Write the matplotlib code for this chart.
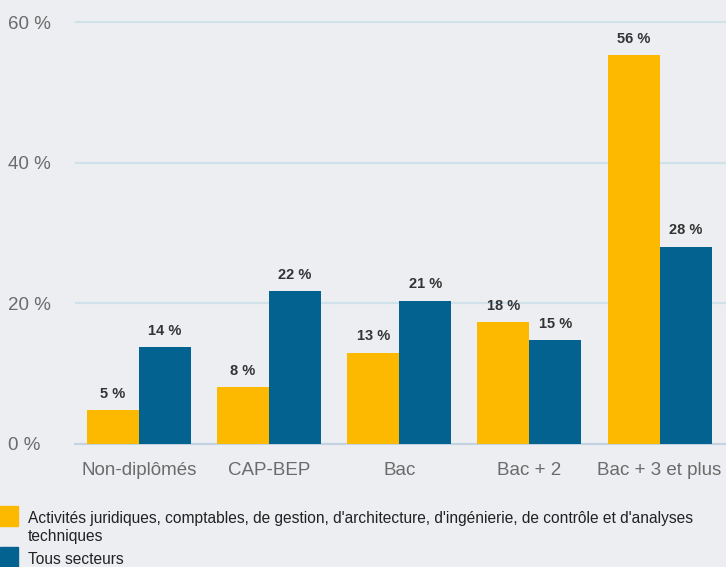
import numpy as np
import matplotlib
matplotlib.use('Agg')
import matplotlib.pyplot as plt
from matplotlib.patches import Rectangle

categories = ['Non-diplômés', 'CAP-BEP', 'Bac', 'Bac + 2', 'Bac + 3 et plus']
activites = [4.8, 8.1, 13.0, 17.4, 55.3]
tous = [13.8, 21.8, 20.4, 14.8, 28.1]
activites_labels = ['5 %', '8 %', '13 %', '18 %', '56 %']
tous_labels = ['14 %', '22 %', '21 %', '15 %', '28 %']
series_names = ["Activités juridiques, comptables, de gestion, d'architecture, d'ingénierie, de contrôle et d'analyses\ntechniques",
                'Tous secteurs']
yticks = [0, 20, 40, 60]

plt.rcParams['font.family'] = ['Liberation Sans', 'DejaVu Sans']

bg = '#eceef1'
orange = '#fcb900'
blue = '#03628f'

W, H = 726, 567
fig = plt.figure(figsize=(W / 100, H / 100), dpi=100, facecolor=bg)
ax = fig.add_axes([0.1033, 0.217, 0.8967, 0.746])
ax.set_facecolor(bg)

x = np.arange(len(categories))
w = 0.4
b1 = ax.bar(x - w/2, activites, w, color=orange, zorder=3)
b2 = ax.bar(x + w/2, tous, w, color=blue, zorder=3)

for rect, lab in zip(b1, activites_labels):
    ax.text(rect.get_x() + rect.get_width()/2, rect.get_height() + 1.3, lab,
            ha='center', va='bottom', fontsize=10.5, fontweight='bold', color='#333333')
for rect, lab in zip(b2, tous_labels):
    ax.text(rect.get_x() + rect.get_width()/2, rect.get_height() + 1.3, lab,
            ha='center', va='bottom', fontsize=10.5, fontweight='bold', color='#333333')

ax.set_xlim(-0.49, 4.51)
ax.set_ylim(0, 60.2)
ax.set_yticks(yticks)
ax.set_yticklabels([f'{v} %' for v in yticks])
ax.set_xticks(x)
ax.set_xticklabels(categories)
ax.tick_params(axis='both', length=0, labelsize=13.5, labelcolor='#6b6b6b')
ax.tick_params(axis='x', pad=13)
for lab in ax.get_yticklabels():
    lab.set_horizontalalignment('left')
ax.yaxis.set_tick_params(pad=48)

ax.grid(axis='y', color='#cfe2ea', linewidth=1.5, zorder=0)
for s in ['top', 'right', 'left']:
    ax.spines[s].set_visible(False)
ax.spines['bottom'].set_color('#c3d3e2')
ax.spines['bottom'].set_linewidth(1.5)

# legend drawn by hand below the plot (swatch + wrapped label)
legend_rows = [(orange, series_names[0], 506), (blue, series_names[1], 547)]
for color, name, top in legend_rows:
    fig.patches.append(Rectangle((0, 1 - (top + 20) / H), 18 / W, 20 / H,
                                 transform=fig.transFigure, color=color))
    for i, line in enumerate(name.split('\n')):
        fig.text(28 / W, 1 - (top + 13 + 18 * i) / H, line, fontsize=11.2,
                 color='#222222', va='center', ha='left')

fig.savefig('out.png', dpi=100, facecolor=bg)
